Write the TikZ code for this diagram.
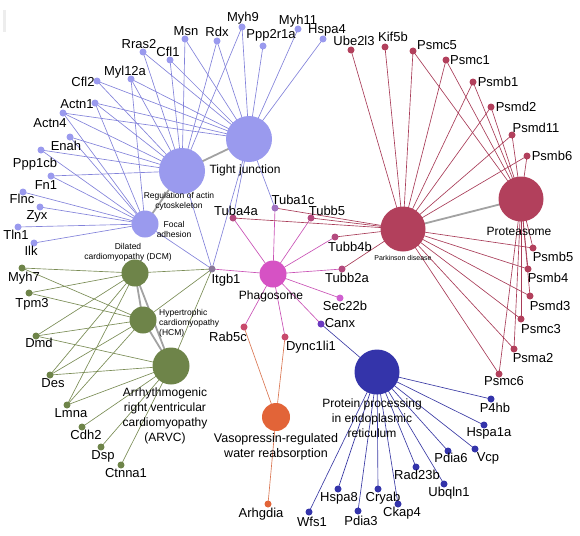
\documentclass[tikz,border=0pt]{standalone}
\usepackage{fontspec}
\setmainfont{Liberation Sans}
\usetikzlibrary{backgrounds}
\definecolor{bln}{HTML}{9A9AEE}
\definecolor{ble}{HTML}{8282DA}
\definecolor{grn}{HTML}{6E8449}
\definecolor{gre}{HTML}{7A8C55}
\definecolor{mag}{HTML}{D652C4}
\definecolor{mage}{HTML}{C952B5}
\definecolor{red}{HTML}{B2405C}
\definecolor{rede}{HTML}{A83C58}
\definecolor{dbl}{HTML}{3434AA}
\definecolor{dble}{HTML}{3A3AA4}
\definecolor{org}{HTML}{E26438}
\definecolor{orge}{HTML}{DA7652}
\definecolor{hube}{HTML}{A2A2A2}
\definecolor{tuc}{HTML}{A070C0}
\definecolor{tub}{HTML}{B44A7E}
\definecolor{rbc}{HTML}{C84A6C}
\definecolor{itc}{HTML}{8A7A9A}
\definecolor{cnx}{HTML}{6A3AC0}
\definecolor{scb}{HTML}{D060D0}
\begin{document}
\begin{tikzpicture}[x=1pt,y=-1pt,
  gn/.style={circle,inner sep=0pt,minimum size=7pt,draw=none},
  hb/.style={circle,inner sep=0pt,draw=none},
  lb/.style={inner sep=0pt,anchor=base,font=\fontsize{13}{15}\selectfont},
  hl/.style={inner sep=0pt,align=center,font=\fontsize{12}{15}\selectfont},
  sl/.style={inner sep=0pt,align=center,font=\fontsize{8.5}{10}\selectfont},
  be/.style={draw=ble,line width=0.65pt},
  ge/.style={draw=gre,line width=0.65pt},
  me/.style={draw=mage,line width=0.65pt},
  re/.style={draw=rede,line width=0.65pt},
  de/.style={draw=dble,line width=0.65pt},
  oe/.style={draw=orge,line width=0.65pt},
  he/.style={draw=hube,line width=1.8pt}]
\useasboundingbox (0,0) rectangle (580,535);
\fill[black!7] (3,10) rectangle (6,32);

% hubs
\node[hb,fill=bln,minimum size=46pt] (TJ) at (249,139) {};
\node[hb,fill=bln,minimum size=46pt] (RAC) at (182,171) {};
\node[hb,fill=bln,minimum size=27pt] (FA) at (145,224) {};
\node[hb,fill=grn,minimum size=27pt] (DCM) at (135,273) {};
\node[hb,fill=grn,minimum size=27pt] (HCM) at (143,320) {};
\node[hb,fill=grn,minimum size=37pt] (ARVC) at (171,366) {};
\node[hb,fill=mag,minimum size=27pt] (PH) at (273,274) {};
\node[hb,fill=red,minimum size=45pt] (PD) at (403,229) {};
\node[hb,fill=red,minimum size=45pt] (PR) at (521,199) {};
\node[hb,fill=dbl,minimum size=45pt] (PP) at (377,372) {};
\node[hb,fill=org,minimum size=28pt] (VP) at (276,417) {};

% blue genes
\foreach \n/\x/\y/\lx/\ly in {Myh9/242/27/243/17, Msn/185/39/186/31, Rdx/217/41/217/32,
  Ppp2r1a/263/46/271/34, Myh11/298/29/298/20, Hspa4/323/39/327/29, Rras2/143/52/139/44,
  Cfl1/170/60/168/52, Myl12a/131/79/125/71, Cfl2/97/81/83/82, Actn1/95/103/77/104,
  Actn4/63/113/50/123, Enah/70/137/66/146, Ppp1cb/41/150/35/163, Fn1/51/176/46/185,
  Flnc/23/192/22/199, Zyx/40/207/37/215, Tln1/18/227/16/235, Ilk/34/243/31/251}
 {\node[gn,fill=bln] (\n) at (\x,\y) {};
  \node[lb] (l\n) at (\lx,\ly+4.5) {\n};}

% green genes
\foreach \n/\x/\y/\lx/\ly in {Myh7/22/268/24/277, Tpm3/29/293/32/303, Dmd/36/336/39/343,
  Des/50/375/53/383, Lmna/67/405/71/413, Cdh2/82/427/86/435, Dsp/101/447/103/455,
  Ctnna1/121/465/126/473}
 {\node[gn,fill=grn] (\n) at (\x,\y) {};
  \node[lb] (l\n) at (\lx,\ly+4.5) {\n};}

% red genes
\foreach \n/\x/\y/\lx/\ly in {Ube2l3/351/50/354/41, Kif5b/385/47/393/37, Psmc5/413/51/437/45,
  Psmc1/446/60/470/60, Psmb1/473/82/498/82, Psmd2/491/107/516/107, Psmd11/512/135/536/128,
  Psmb6/527/156/552/156, Psmb5/533/248/553/257, Psmb4/528/269/548/278, Psmd3/530/296/550/306,
  Psmc3/521/319/541/329, Psma2/514/349/533/358, Psmc6/499/374/504/381}
 {\node[gn,fill=red] (\n) at (\x,\y) {};
  \node[lb] (l\n) at (\lx,\ly+4.5) {\n};}

% dark blue genes
\foreach \n/\x/\y/\lx/\ly in {P4hb/491/399/495/408, Hspa1a/484/425/489/432, Vcp/475/449/488/457,
  Pdia6/448/451/451/458, Rad23b/416/467/417/475, Ubqln1/444/484/449/492, Cryab/378/489/383/497,
  Ckap4/398/504/402/512, Hspa8/338/489/339/497, Pdia3/358/511/361/521, Wfs1/309/512/312/522}
 {\node[gn,fill=dbl] (\n) at (\x,\y) {};
  \node[lb] (l\n) at (\lx,\ly+4.5) {\n};}

% mixed genes
\foreach \n/\c/\x/\y/\lx/\ly in {Tuba1c/tuc/275/208/293/200, Tuba4a/tub/233/218/236/211,
  Tubb5/tub/311/218/327/211, Tubb4b/tub/335/237/350/247, Tubb2a/tub/342/269/347/278,
  Sec22b/scb/340/298/345/306, Canx/cnx/321/324/340/323, Dync1li1/rbc/285/337/311/346,
  Rab5c/rbc/244/327/228/337, Itgb1/itc/212/269/226/279, Arhgdia/org/268/504/261/513}
 {\node[gn,fill=\c] (\n) at (\x,\y) {};
  \node[lb] (l\n) at (\lx,\ly+4.5) {\n};}

% hub labels
\node[hl] (lTJ) at (245,170) {Tight junction};
\node[sl] (lRAC) at (179,201) {Regulation of actin\\cytoskeleton};
\node[sl] (lFA) at (174,229) {Focal\\adhesion};
\node[sl] (lDCM) at (128,252) {Dilated\\cardiomyopathy (DCM)};
\node[sl,align=left,anchor=west] (lHCM) at (159,323) {Hypertrophic\\cardiomyopathy\\(HCM)};
\node[hl] (lARVC) at (165,416) {Arrhythmogenic\\right ventricular\\cardiomyopathy\\(ARVC)};
\node[hl] (lPH) at (271,296) {Phagosome};
\node[inner sep=0pt,font=\fontsize{7}{8}\selectfont] (lPD) at (403,258) {Parkinson disease};
\node[hl] (lPR) at (519,231) {Proteasome};
\node[hl] (lPP) at (372,418) {Protein processing\\in endoplasmic\\reticulum};
\node[hl,font=\fontsize{12.5}{15}\selectfont] (lVP) at (276,447) {Vasopressin-regulated\\water reabsorption};

\begin{scope}[on background layer]
 \foreach \g in {Myh9,Myh11,Hspa4,Ppp2r1a,Rdx,Msn,Cfl1,Rras2,Myl12a,Cfl2,Actn1,Actn4,Itgb1,Tuba1c,Tuba4a}
   \draw[be] (TJ.center) -- (\g.center);
 \foreach \g in {Myh9,Msn,Rdx,Rras2,Cfl1,Cfl2,Myl12a,Actn1,Actn4,Enah,Ppp1cb,Fn1,Itgb1}
   \draw[be] (RAC.center) -- (\g.center);
 \foreach \g in {Actn1,Actn4,Myl12a,Enah,Ppp1cb,Fn1,Flnc,Zyx,Tln1,Ilk,Itgb1}
   \draw[be] (FA.center) -- (\g.center);
 \foreach \g in {Myh7,Tpm3,Dmd,Des,Lmna,Itgb1}
   {\draw[ge] (DCM.center) -- (\g.center); \draw[ge] (HCM.center) -- (\g.center);}
 \foreach \g in {Dmd,Des,Lmna,Cdh2,Dsp,Ctnna1,Itgb1}
   \draw[ge] (ARVC.center) -- (\g.center);
 \foreach \g in {Tuba1c,Tuba4a,Tubb5,Tubb4b,Tubb2a,Sec22b,Canx,Dync1li1,Rab5c,Itgb1}
   \draw[me] (PH.center) -- (\g.center);
 \foreach \g in {Tuba1c,Tuba4a,Tubb5,Tubb4b,Tubb2a,Ube2l3,Kif5b,Psmc5,Psmc1,Psmb1,Psmd2,Psmd11,Psmb6,Psmb5,Psmb4,Psmd3,Psmc3,Psma2,Psmc6}
   \draw[re] (PD.center) -- (\g.center);
 \foreach \g in {Psmc5,Psmc1,Psmb1,Psmd2,Psmd11,Psmb6,Psmb5,Psmb4,Psmd3,Psmc3,Psma2,Psmc6}
   \draw[re] (PR.center) -- (\g.center);
 \foreach \g in {Canx,P4hb,Hspa1a,Vcp,Pdia6,Rad23b,Ubqln1,Cryab,Ckap4,Hspa8,Pdia3,Wfs1}
   \draw[de] (PP.center) -- (\g.center);
 \foreach \g in {Rab5c,Dync1li1,Arhgdia}
   \draw[oe] (VP.center) -- (\g.center);
 \draw[he] (TJ.center) -- (RAC.center);
 \draw[he] (RAC.center) -- (FA.center);
 \draw[he] (DCM.center) -- (HCM.center);
 \draw[he] (DCM.center) -- (ARVC.center);
 \draw[he] (HCM.center) -- (ARVC.center);
 \draw[he] (PD.center) -- (PR.center);
\end{scope}
\end{tikzpicture}
\end{document}
